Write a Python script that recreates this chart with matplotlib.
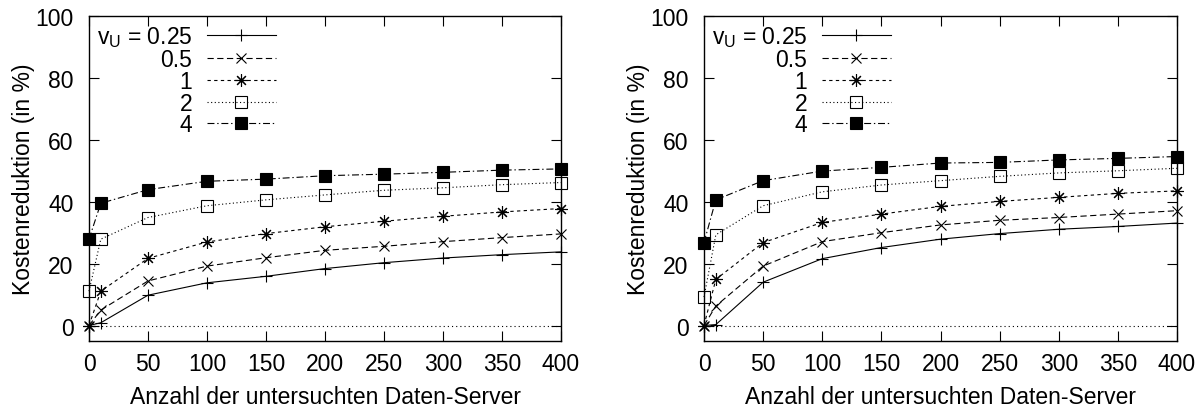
"""Kostenreduktion vs. Anzahl der untersuchten Daten-Server (two panels, gnuplot look)."""

import matplotlib
matplotlib.use("Agg")
import matplotlib.pyplot as plt

plt.rcParams["font.family"] = ["Liberation Sans", "DejaVu Sans"]
plt.rcParams["mathtext.fontset"] = "custom"
plt.rcParams["mathtext.rm"] = "Liberation Sans"
plt.rcParams["mathtext.it"] = "Liberation Sans"
plt.rcParams["lines.scale_dashes"] = False

# ---------------------------------------------------------------------------
# Data
# ---------------------------------------------------------------------------
servers = [0, 10, 50, 100, 150, 200, 250, 300, 350, 400]
vu_labels = [r"v$_\mathrm{U}$ = 0.25", "0.5", "1", "2", "4"]

left_025 = [0, 0.9, 9.8, 13.8, 15.9, 18.4, 20.3, 21.8, 22.9, 23.8]
left_05 = [0, 5.0, 14.4, 19.2, 21.9, 24.3, 25.6, 27.1, 28.4, 29.6]
left_1 = [0, 11.1, 21.7, 27.0, 29.7, 31.9, 33.7, 35.3, 36.7, 37.8]
left_2 = [11.1, 27.9, 34.9, 38.7, 40.6, 42.2, 43.7, 44.5, 45.5, 46.2]
left_4 = [27.9, 39.5, 43.9, 46.6, 47.3, 48.4, 48.9, 49.5, 50.2, 50.6]

right_025 = [0, 0.3, 14.0, 21.6, 25.2, 27.9, 29.7, 31.1, 32.0, 33.1]
right_05 = [0, 6.3, 19.2, 27.1, 30.0, 32.5, 34.0, 34.9, 36.0, 37.1]
right_1 = [0, 14.9, 26.8, 33.3, 36.0, 38.5, 40.1, 41.4, 42.7, 43.5]
right_2 = [9.2, 29.3, 38.7, 43.2, 45.4, 46.8, 48.2, 49.3, 50.0, 50.8]
right_4 = [26.8, 40.6, 46.8, 49.9, 51.1, 52.5, 52.7, 53.5, 54.0, 54.6]

# ---------------------------------------------------------------------------
# Styles (gnuplot-like point types / dash types)
# ---------------------------------------------------------------------------
STYLES = [
    dict(marker="+", ms=9, mfc="none", dashes=None),
    dict(marker="x", ms=7.5, mfc="none", dashes=(4.5, 2.5)),
    dict(marker=(8, 2, 0), ms=9, mfc="none", dashes=(2.4, 2.4)),
    dict(marker="s", ms=8, mfc="none", dashes=(0.8, 1.8)),
    dict(marker="s", ms=8.5, mfc="black", dashes=(5, 2, 1, 2)),
]

FS = 16.5


def draw_panel(ax, series):
    ax.axhline(0, color="black", lw=0.8, ls=(0, (0.8, 2.2)), zorder=1)
    for vals, lab, st in zip(series, vu_labels, STYLES):
        line, = ax.plot(
            servers, vals, color="black", lw=0.8, marker=st["marker"],
            markersize=st["ms"], markerfacecolor=st["mfc"],
            markeredgecolor="black", markeredgewidth=0.8,
            label=lab, clip_on=False, zorder=3,
        )
        if st["dashes"] is not None:
            line.set_dashes(st["dashes"])
    ax.set_xlim(0, 400)
    ax.set_ylim(-5, 100)
    ax.set_xticks(range(0, 401, 50))
    ax.set_yticks(range(0, 101, 20))
    ax.tick_params(direction="in", length=7, width=0.8, top=True, right=True,
                   labelsize=FS)
    ax.tick_params(axis="x", pad=8)
    ax.tick_params(axis="y", pad=11)
    for sp in ax.spines.values():
        sp.set_linewidth(1.0)
    ax.set_xlabel("Anzahl der untersuchten Daten-Server", fontsize=FS, labelpad=7)
    ax.set_ylabel("Kostenreduktion (in %)", fontsize=FS, labelpad=0)

    leg = ax.legend(loc="upper left", frameon=False, markerfirst=False,
                    fontsize=FS, handlelength=3.0, handletextpad=0.65,
                    labelspacing=-0.05, borderaxespad=0.0, borderpad=0.0,
                    bbox_to_anchor=(0.016, 0.975))
    # right-align the legend rows (labels flush right, like gnuplot)
    for col in leg._legend_handle_box.get_children():
        col.align = "right"


fig = plt.figure(figsize=(12.04, 4.14), dpi=100)
ax_left = fig.add_axes([89 / 1204, 72 / 414, 472 / 1204, 325 / 414])
ax_right = fig.add_axes([704 / 1204, 72 / 414, 473 / 1204, 325 / 414])

draw_panel(ax_left, [left_025, left_05, left_1, left_2, left_4])
draw_panel(ax_right, [right_025, right_05, right_1, right_2, right_4])

fig.savefig("out.png", dpi=100)
